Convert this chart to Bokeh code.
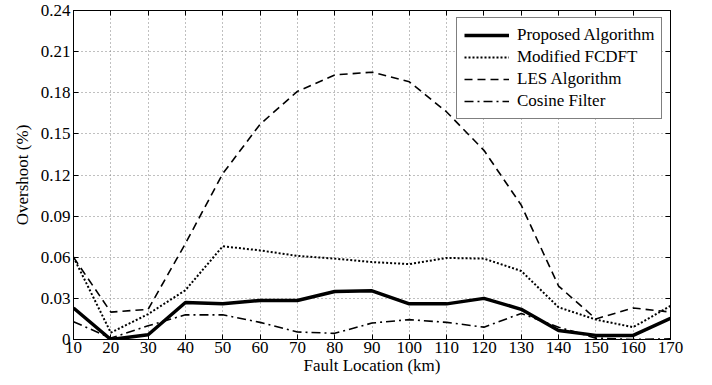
from bokeh.plotting import figure
from bokeh.models import (LinearAxis, FixedTicker, NumeralTickFormatter, Legend,
                          LegendItem, Range1d)
from bokeh.embed import file_html
from bokeh.resources import INLINE

fault_km = [10, 20, 30, 40, 50, 60, 70, 80, 90, 100, 110, 120, 130, 140, 150, 160, 170]
proposed = [0.023, 0.0, 0.0035, 0.027, 0.026, 0.0285, 0.0285, 0.035, 0.0355, 0.026,
            0.026, 0.030, 0.022, 0.0065, 0.003, 0.003, 0.0155]
modified_fcdft = [0.060, 0.005, 0.0185, 0.036, 0.068, 0.065, 0.061, 0.059, 0.0565, 0.055,
                  0.0595, 0.059, 0.050, 0.0235, 0.0145, 0.009, 0.0245]
les = [0.060, 0.020, 0.022, 0.070, 0.121, 0.157, 0.181, 0.193, 0.195, 0.188,
       0.166, 0.138, 0.098, 0.039, 0.015, 0.023, 0.020]
cosine = [0.013, 0.001, 0.010, 0.018, 0.018, 0.0125, 0.0055, 0.0045, 0.012, 0.0145,
          0.0125, 0.009, 0.019, 0.009, 0.001, 0.0, 0.0005]

x_ticks = [10, 20, 30, 40, 50, 60, 70, 80, 90, 100, 110, 120, 130, 140, 150, 160, 170]
y_ticks = [0, 0.03, 0.06, 0.09, 0.12, 0.15, 0.18, 0.21, 0.24]

FONT = "Liberation Serif"
FS = "17px"

p = figure(width=704, height=377, output_backend="svg", toolbar_location=None,
           x_range=Range1d(10, 170), y_range=Range1d(0, 0.24),
           min_border_left=73, min_border_right=34, min_border_top=10, min_border_bottom=35)
p.background_fill_color = "white"
p.border_fill_color = "white"
p.outline_line_color = "black"
p.outline_line_width = 1

for ax in (p.xaxis[0], p.yaxis[0]):
    ax.major_tick_in = 5
    ax.major_tick_out = 0
    ax.minor_tick_in = 0
    ax.minor_tick_out = 0
    ax.major_label_text_font = FONT
    ax.major_label_text_font_size = FS
    ax.major_label_text_color = "black"
    ax.axis_label_text_font = FONT
    ax.axis_label_text_font_size = FS
    ax.axis_label_text_color = "black"
    ax.axis_label_text_font_style = "normal"
    ax.axis_line_color = "black"
    ax.major_tick_line_color = "black"

p.xaxis[0].ticker = FixedTicker(ticks=x_ticks)
p.yaxis[0].ticker = FixedTicker(ticks=y_ticks)
p.yaxis[0].formatter = NumeralTickFormatter(format="0.[00]")
p.xaxis[0].axis_label = "Fault Location (km)"
p.yaxis[0].axis_label = "Overshoot (%)"
p.xaxis[0].major_label_standoff = 2
p.xaxis[0].axis_label_standoff = 0
p.yaxis[0].major_label_standoff = 3
p.yaxis[0].axis_label_standoff = 6

top_ax = LinearAxis(ticker=FixedTicker(ticks=x_ticks), major_label_text_font_size="1px",
                    major_label_text_color=None, major_label_standoff=0,
                    major_tick_in=5, major_tick_out=0, minor_tick_in=0, minor_tick_out=0)
right_ax = LinearAxis(ticker=FixedTicker(ticks=y_ticks), major_label_text_font_size="1px",
                      major_label_text_color=None, major_label_standoff=0,
                      major_tick_in=5, major_tick_out=0, minor_tick_in=0, minor_tick_out=0)
p.add_layout(top_ax, "above")
p.add_layout(right_ax, "right")

p.xgrid.ticker = FixedTicker(ticks=x_ticks)
p.ygrid.ticker = FixedTicker(ticks=y_ticks)
for g in (p.xgrid[0], p.ygrid[0]):
    g.grid_line_color = "#808080"
    g.grid_line_dash = "1 3"
    g.grid_line_width = 1

r1 = p.line(fault_km, proposed, line_color="black", line_width=3.5)
r2 = p.line(fault_km, modified_fcdft, line_color="black", line_width=2, line_dash="2 2")
r3 = p.line(fault_km, les, line_color="black", line_width=1.6, line_dash="8 5")
r4 = p.line(fault_km, cosine, line_color="black", line_width=1.6, line_dash="9 4 2 4")

legend = Legend(items=[
    LegendItem(label="Proposed Algorithm", renderers=[r1]),
    LegendItem(label="Modified FCDFT", renderers=[r2]),
    LegendItem(label="LES Algorithm", renderers=[r3]),
    LegendItem(label="Cosine Filter", renderers=[r4]),
], location=(383, 220))
legend.label_text_font = FONT
legend.label_text_font_size = FS
legend.label_text_color = "black"
legend.border_line_color = "black"
legend.border_line_width = 1
legend.background_fill_color = "white"
legend.background_fill_alpha = 1
legend.glyph_width = 45
legend.glyph_height = 18
legend.label_height = 18
legend.spacing = 2
legend.padding = 7
legend.margin = 0
legend.label_standoff = 8
p.add_layout(legend, "center")

open("out.html", "w").write(file_html(p, INLINE))
